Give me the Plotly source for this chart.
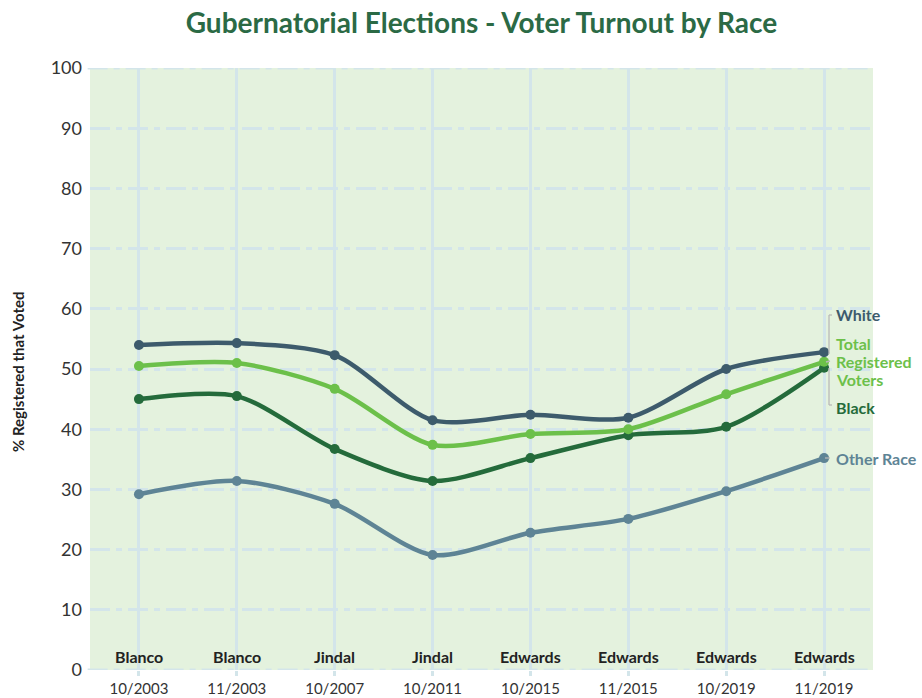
import plotly.graph_objects as go

dates = ["10/2003", "11/2003", "10/2007", "10/2011", "10/2015", "11/2015", "10/2019", "11/2019"]
candidates = ["Blanco", "Blanco", "Jindal", "Jindal", "Edwards", "Edwards", "Edwards", "Edwards"]
white = [54.0, 54.3, 52.3, 41.5, 42.4, 41.9, 50.0, 52.8]
total = [50.5, 51.0, 46.7, 37.4, 39.2, 40.0, 45.8, 51.2]
black = [45.0, 45.5, 36.7, 31.4, 35.2, 39.0, 40.4, 50.2]
other = [29.2, 31.4, 27.6, 19.1, 22.8, 25.1, 29.7, 35.2]
y_ticks = [0, 10, 20, 30, 40, 50, 60, 70, 80, 90, 100]

FONT = "Lato"
GRID = "#d3e5ea"
DASH = "20px,6px,6px,6px"
series = [
    ("Other Race", other, "#5e8495"),
    ("Black", black, "#246b3b"),
    ("Total Registered Voters", total, "#6cc04a"),
    ("White", white, "#3d5b6c"),
]

H, W = 698, 922
mt, mb, ml, mr = 68, 28, 90, 49
ph = H - mt - mb
pw = W - ml - mr


def px(x):
    return (x - ml) / pw


def py_(y):
    return 1 - (y - mt) / ph


fig = go.Figure()
for name, vals, col in series:
    fig.add_trace(go.Scatter(
        x=dates, y=vals, name=name, mode="lines+markers",
        line=dict(color=col, width=4.5, shape="spline", smoothing=0.8),
        marker=dict(color=col, size=10),
        showlegend=False, cliponaxis=False, hoverinfo="skip",
    ))

ann = []
for d, c in zip(dates, candidates):
    ann.append(dict(x=d, y=2.3, xref="x", yref="y", text="<b>" + c + "</b>",
                    showarrow=False, font=dict(family=FONT, size=16, color="#222")))

labels = [
    ("<b>White</b>", 314, "#3d5b6c"),
    ("<b>Total</b>", 343, "#6cc04a"),
    ("<b>Registered</b>", 361, "#6cc04a"),
    ("<b>Voters</b>", 379, "#6cc04a"),
    ("<b>Black</b>", 407, "#246b3b"),
    ("<b>Other Race</b>", 458, "#5e8495"),
]
for txt, pyy, col in labels:
    ann.append(dict(x=px(834), y=py_(pyy), xref="paper", yref="paper", text=txt, showarrow=False,
                    xanchor="left", yanchor="middle", align="left",
                    font=dict(family=FONT, size=16, color=col)))

ann.append(dict(x=px(18), y=py_(372), xref="paper", yref="paper",
                text="<b>% Registered that Voted</b>", textangle=-90, showarrow=False,
                xanchor="center", yanchor="middle",
                font=dict(family=FONT, size=15, color="#222")))

shapes = []
gc = "#b8b8b8"
segs = [
    (829, 315, 829, 354), (829, 315, 832, 315),
    (826, 362, 830, 361),
    (829, 368, 829, 405), (829, 405, 832, 405),
    (825, 458, 830, 458),
]
for x0, y0, x1, y1 in segs:
    shapes.append(dict(type="line", xref="paper", yref="paper", x0=px(x0), y0=py_(y0),
                       x1=px(x1), y1=py_(y1), line=dict(color=gc, width=1.3)))
for yv in (0, 100):
    shapes.append(dict(type="line", xref="paper", yref="y", x0=-0.003, x1=1, y0=yv, y1=yv,
                       layer="below", line=dict(color=GRID, width=3, dash=DASH)))

fig.update_layout(
    width=W, height=H,
    margin=dict(l=ml, r=mr, t=mt, b=mb, autoexpand=False),
    paper_bgcolor="white",
    plot_bgcolor="#e4f2de",
    title=dict(text="<b>Gubernatorial Elections - Voter Turnout by Race</b>",
               x=0.5, xref="paper", xanchor="center", y=1 - 23 / H, yanchor="middle",
               font=dict(family=FONT, size=28, color="#2b6a45")),
    annotations=ann,
    shapes=shapes,
    font=dict(family=FONT),
)
fig.update_xaxes(
    type="category", range=[-0.5, 7.5], automargin=False,
    showgrid=True, gridcolor=GRID, gridwidth=3,
    tickfont=dict(family=FONT, size=15, color="#333"),
    ticks="outside", ticklen=5, tickwidth=3, tickcolor=GRID,
    showline=False, zeroline=False,
)
fig.update_yaxes(
    range=[0, 100], tickvals=y_ticks, automargin=False,
    showgrid=True, gridcolor=GRID, gridwidth=3, griddash=DASH,
    tickfont=dict(family=FONT, size=18, color="#333"),
    zeroline=False, showline=False, ticks="", ticklabelstandoff=7,
)
fig.write_html("out.html", config={"displayModeBar": False},
               post_script="document.body.style.margin='0';document.body.style.overflow='hidden';")
